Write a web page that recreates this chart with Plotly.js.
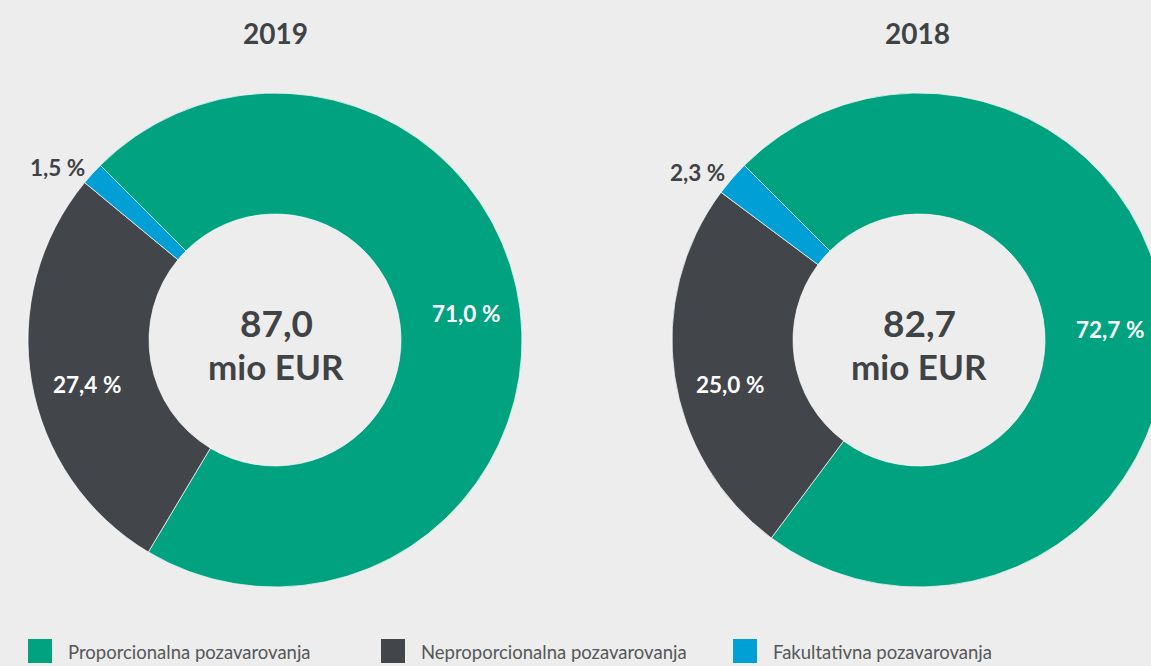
<!DOCTYPE html>
<html>
<head>
<meta charset="utf-8">
<script src="https://cdn.plot.ly/plotly-3.0.1.min.js"></script>
<style>
html,body{margin:0;padding:0;background:#ededed;overflow:hidden;}
#chart{width:1180px;height:666px;}
</style>
</head>
<body>
<div id="chart"></div>
<script>
const categories = ['Proporcionalna pozavarovanja', 'Neproporcionalna pozavarovanja', 'Fakultativna pozavarovanja'];
const colors = ['#00a27f', '#424549', '#009fd6'];
const years = ['2019', '2018'];
const values2019 = [71.0, 27.4, 1.5];
const values2018 = [72.7, 25.0, 2.3];
const totals = ['87,0', '82,7'];
const unit = 'mio EUR';

const W = 1180, H = 666;
const px = x => x / W;
const py = y => (H - y) / H;
const fmt = v => v.toFixed(1).replace('.', ',') + ' %';
const dark = '#404346';
const FONT = 'Lato, "Noto Sans", sans-serif';

function pieTrace(vals, x0, x1) {
  return {
    type: 'pie', values: vals, labels: categories, sort: false,
    direction: 'clockwise', rotation: -45, hole: 0.51,
    marker: {colors: colors, line: {color: 'rgba(255,255,255,0.7)', width: 1}},
    textinfo: 'none', hoverinfo: 'label+percent', showlegend: false,
    domain: {x: [px(x0), px(x1)], y: [py(587), py(93)]}
  };
}

const data = [pieTrace(values2019, 28, 522), pieTrace(values2018, 672, 1166)];

const ann = [];
function addText(text, x, y, size, color, xanchor) {
  ann.push({text: text, x: px(x), y: py(y), xref: 'paper', yref: 'paper',
    xanchor: xanchor || 'center', yanchor: 'middle', showarrow: false,
    font: {family: FONT, size: size, color: color}});
}
const titleX = [275, 918];
years.forEach((y, i) => {
  addText('<b>' + y + '</b>', titleX[i], 33, 28, dark);
  addText('<b>' + totals[i] + '</b>', titleX[i] + 1, 322, 37, dark);
  addText('<b>' + unit + '</b>', titleX[i] + 1, 366, 35, dark);
});
// percentage labels
const labelPos2019 = [[466, 313, '#ffffff'], [87, 384, '#ffffff'], [57, 168, dark]];
const labelPos2018 = [[1110, 329, '#ffffff'], [730, 384, '#ffffff'], [697, 173, dark]];
[[values2019, labelPos2019], [values2018, labelPos2018]].forEach(([vals, pos]) => {
  vals.forEach((v, k) => {
    addText('<b>' + fmt(v) + '</b>', pos[k][0], pos[k][1], 22.5, pos[k][2]);
  });
});

// legend
const shapes = [];
const legX = [28, 381, 733];
categories.forEach((c, i) => {
  shapes.push({type: 'rect', xref: 'paper', yref: 'paper', x0: px(legX[i]), x1: px(legX[i] + 24),
    y0: py(663), y1: py(639), fillcolor: colors[i], line: {width: 0}});
  addText(c, legX[i] + 38, 652, 18.5, '#555759', 'left');
});

const layout = {
  width: W, height: H,
  margin: {l: 0, r: 0, t: 0, b: 0},
  paper_bgcolor: '#ededed', plot_bgcolor: '#ededed',
  annotations: ann, shapes: shapes, showlegend: false
};
Plotly.newPlot('chart', data, layout, {displayModeBar: false, staticPlot: true});
</script>
</body>
</html>
